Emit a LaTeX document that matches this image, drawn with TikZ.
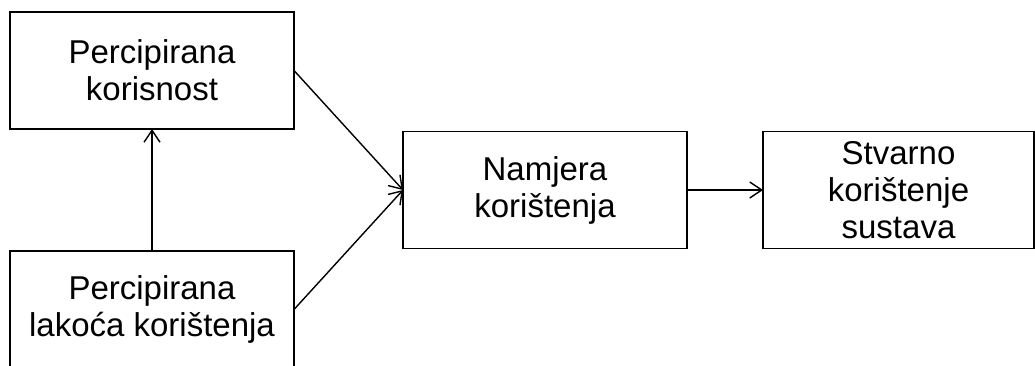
\documentclass[tikz,border=0pt]{standalone}
\usepackage{fontspec}
\setmainfont{Liberation Sans}
\usetikzlibrary{positioning,calc,arrows.meta}

\begin{document}
\begin{tikzpicture}[
  x=1pt,y=1pt,
  node distance=109pt and 109pt,
  mybox/.style={draw,line width=1.8pt,rectangle,minimum width=284pt,minimum height=117pt,
    inner sep=0pt,outer sep=0pt,align=center,font=\fontsize{33}{37}\selectfont},
  myarrow/.style={line width=1.4pt,-{Straight Barb[length=12pt,width=16pt,line width=1.4pt]}}
]
\useasboundingbox (0,0) rectangle (1035,365);

\node[mybox] (pk) at (152,294.5) {Percipirana\\korisnost};
\node[mybox,below=122pt of pk] (pl) {Percipirana\\lakoća korištenja};
\node[mybox,right=109pt of $(pk.east)!.5!(pl.east)$] (nk) {Namjera\\korištenja};
\node[mybox,minimum width=271pt,right=76pt of nk] (sk) {Stvarno\\korištenje\\sustava};

\path (pl) edge[myarrow] (pk)
(pk.east) edge[myarrow] (nk.west)
(pl.east) edge[myarrow] (nk.west)
(nk) edge[myarrow] (sk);
\end{tikzpicture}
\end{document}
